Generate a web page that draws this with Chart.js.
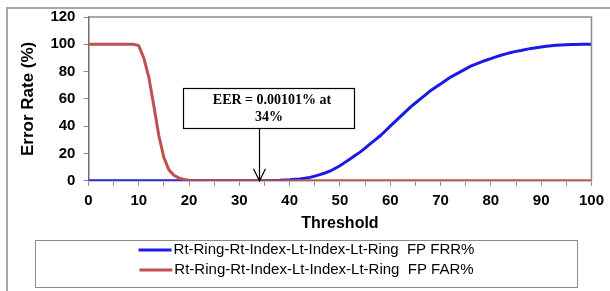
<!DOCTYPE html>
<html>
<head>
<meta charset="utf-8">
<script src="https://cdn.jsdelivr.net/npm/chart.js@4.4.0/dist/chart.umd.min.js"></script>
<style>
  html, body { margin: 0; padding: 0; background: #fff; }
  #wrap { width: 610px; height: 291px; position: relative; }
</style>
</head>
<body>
<div id="wrap"><canvas id="errChart"></canvas></div>
<script>
const thresholds = Array.from({ length: 101 }, (_, i) => i);

// FRR%, one value per threshold 0..100
const frr = [
    0, 0, 0, 0, 0, 0, 0, 0, 0, 0,
    0, 0, 0, 0, 0, 0, 0, 0, 0, 0,
    0, 0, 0, 0, 0, 0, 0, 0, 0, 0,
    0, 0, 0, 0, 0.05, 0.1, 0.2, 0.3, 0.4, 0.6,
    0.8, 1.1, 1.4, 1.9, 2.5, 3.4, 4.5, 5.7, 7, 9,
    11, 13.5, 16, 18.5, 21, 24, 27, 30, 33, 36.5,
    40, 43.5, 47, 50.5, 54, 57, 60, 63, 66, 68.5,
    71, 73.5, 76, 78, 80, 82, 84, 85.5, 87, 88.3,
    89.5, 90.8, 92, 93, 94, 94.8, 95.5, 96.3, 97, 97.5,
    98, 98.5, 99, 99.3, 99.5, 99.7, 99.8, 99.9, 100, 100,
    100
];

// FAR%
const far = [
    100, 100, 100, 100, 100, 100, 100, 100, 100, 100,
    99, 90, 76, 55, 33, 17, 8, 4, 2, 1,
    0.4, 0.1, 0, 0, 0, 0, 0, 0, 0, 0,
    0, 0, 0, 0, 0, 0, 0, 0, 0, 0,
    0, 0, 0, 0, 0, 0, 0, 0, 0, 0,
    0, 0, 0, 0, 0, 0, 0, 0, 0, 0,
    0, 0, 0, 0, 0, 0, 0, 0, 0, 0,
    0, 0, 0, 0, 0, 0, 0, 0, 0, 0,
    0, 0, 0, 0, 0, 0, 0, 0, 0, 0,
    0, 0, 0, 0, 0, 0, 0, 0, 0, 0,
    0
];

const seriesLabels = [
    'Rt-Ring-Rt-Index-Lt-Index-Lt-Ring  FP FRR%',
    'Rt-Ring-Rt-Index-Lt-Index-Lt-Ring  FP FAR%'
];
const eerText = ['EER = 0.00101% at', '34%'];
const eerThreshold = 34;

const toPoints = arr => arr.map((v, i) => ({ x: thresholds[i], y: v }));

// frame, plot border, EER callout and the boxed legend
const decorations = {
    id: 'decorations',
    beforeDraw(chart) {
        const ctx = chart.ctx;
        ctx.save();
        ctx.strokeStyle = '#a6a6a6';
        ctx.lineWidth = 2;
        ctx.strokeRect(7, 8, 700, 400);
        ctx.restore();
    },
    afterDraw(chart) {
        const ctx = chart.ctx;
        const area = chart.chartArea;
        const xs = chart.scales.x;
        const ys = chart.scales.y;
        ctx.save();

        // top/right of plot frame
        ctx.strokeStyle = '#8c8c8c';
        ctx.lineWidth = 1.5;
        ctx.beginPath();
        ctx.moveTo(area.left, area.top);
        ctx.lineTo(area.right, area.top);
        ctx.lineTo(area.right, area.bottom);
        ctx.stroke();

        // EER callout
        const bx1 = Math.round(xs.getPixelForValue(18.8)) + 0.5;
        const bx2 = Math.round(xs.getPixelForValue(52.8)) + 0.5;
        const by1 = Math.round(ys.getPixelForValue(68)) + 0.5;
        const by2 = Math.round(ys.getPixelForValue(38.5)) + 0.5;
        ctx.fillStyle = '#fff';
        ctx.fillRect(bx1, by1, bx2 - bx1, by2 - by1);
        ctx.strokeStyle = '#000';
        ctx.lineWidth = 1.2;
        ctx.strokeRect(bx1, by1, bx2 - bx1, by2 - by1);
        ctx.fillStyle = '#000';
        ctx.font = 'bold 14px "Liberation Serif", "Times New Roman", serif';
        ctx.textAlign = 'center';
        ctx.textBaseline = 'middle';
        const cx = (bx1 + bx2) / 2;
        ctx.fillText(eerText[0], cx + 3, by1 + 12);
        ctx.fillText(eerText[1], cx, by1 + 29);

        const ax = Math.round(xs.getPixelForValue(eerThreshold)) + 0.5;
        const ay = ys.getPixelForValue(0);
        ctx.beginPath();
        ctx.moveTo(ax, by2);
        ctx.lineTo(ax, ay);
        ctx.moveTo(ax - 6, ay - 12);
        ctx.lineTo(ax, ay);
        ctx.lineTo(ax + 6, ay - 12);
        ctx.stroke();

        // legend
        const lx1 = 35.5, lx2 = 577.5, ly1 = 240.5, ly2 = 287.5;
        ctx.strokeStyle = '#8c8c8c';
        ctx.lineWidth = 1;
        ctx.strokeRect(lx1, ly1, lx2 - lx1, ly2 - ly1);
        ctx.font = '15px "Liberation Sans", Arial, sans-serif';
        ctx.textAlign = 'left';
        chart.data.datasets.forEach((ds, i) => {
            const tw = ctx.measureText(ds.label).width;
            const total = 33 + 2 + tw;
            const sx = (lx1 + lx2) / 2 - total / 2;
            const y = 250 + i * 20;
            ctx.strokeStyle = ds.borderColor;
            ctx.lineWidth = 3;
            ctx.beginPath();
            ctx.moveTo(sx, y);
            ctx.lineTo(sx + 33, y);
            ctx.stroke();
            ctx.fillStyle = '#000';
            ctx.fillText(ds.label, sx + 35, y);
        });
        ctx.restore();
    }
};

new Chart(document.getElementById('errChart').getContext('2d'), {
    type: 'line',
    data: {
        datasets: [
            {
                label: seriesLabels[0],
                data: toPoints(frr),
                borderColor: '#1a1ae6',
                borderWidth: 3,
                pointRadius: 0,
                order: 2
            },
            {
                label: seriesLabels[1],
                data: toPoints(far),
                borderColor: '#c0504d',
                borderWidth: 3,
                pointRadius: 0,
                order: 1
            }
        ]
    },
    options: {
        responsive: true,
        maintainAspectRatio: false,
        animation: false,
        layout: { padding: { top: 14, right: 17, bottom: 58, left: 18 } },
        plugins: {
            legend: { display: false },
            tooltip: { enabled: false }
        },
        scales: {
            x: {
                type: 'linear',
                min: 0,
                max: 100,
                grid: { drawOnChartArea: false, color: '#8c8c8c', tickLength: 5 },
                border: { color: '#8c8c8c', width: 1.5 },
                ticks: {
                    stepSize: 5,
                    autoSkip: false,
                    maxRotation: 0,
                    padding: 6,
                    color: '#000',
                    font: { family: '"Liberation Sans", Arial, sans-serif', size: 15, weight: 'bold' },
                    callback: v => (v % 10 === 0 ? v : '')
                },
                title: {
                    display: true,
                    text: 'Threshold',
                    color: '#000',
                    padding: { top: -2, bottom: 0 },
                    font: { family: '"Liberation Sans", Arial, sans-serif', size: 16, weight: 'bold' }
                }
            },
            y: {
                min: 0,
                max: 120,
                grid: { drawOnChartArea: false, color: '#8c8c8c', tickLength: 5 },
                border: { color: '#707070', width: 1.5 },
                ticks: {
                    stepSize: 20,
                    padding: 8,
                    color: '#000',
                    font: { family: '"Liberation Sans", Arial, sans-serif', size: 15, weight: 'bold' }
                },
                title: {
                    display: true,
                    text: 'Error Rate (%)',
                    color: '#000',
                    padding: { top: 0, bottom: 4 },
                    font: { family: '"Liberation Sans", Arial, sans-serif', size: 17, weight: 'bold' }
                }
            }
        }
    },
    plugins: [decorations]
});
</script>
</body>
</html>
